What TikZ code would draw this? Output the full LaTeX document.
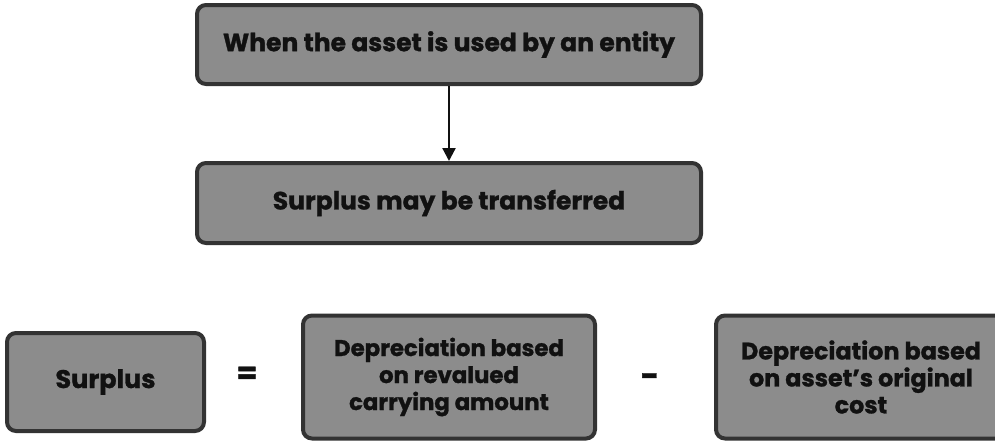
\documentclass[tikz,border=0pt]{standalone}
\usepackage{fontspec}
\setmainfont{Poppins}[BoldFeatures={FakeBold=1.2}]
\usetikzlibrary{arrows.meta}
\definecolor{boxfill}{HTML}{8C8C8C}
\definecolor{boxedge}{HTML}{333333}
\definecolor{ink}{HTML}{111111}
\begin{document}
\begin{tikzpicture}[x=1pt,y=-1pt,
  card/.style={draw=boxedge, fill=boxfill, line width=4pt, rounded corners=9pt,
    text=ink, font=\bfseries, align=center, inner sep=0pt},
  link/.style={draw=ink, line width=2.2pt, -{Triangle[length=13pt,width=13pt]}}]
  \useasboundingbox[fill=white] (0,0) rectangle (995,440);
  \clip (0,0) rectangle (995,440);
  % top flow
  \node[card, minimum width=504pt, minimum height=79pt, font=\bfseries\fontsize{25}{28}\selectfont]
    (use) at (449,44.5) {When the asset is used by an entity};
  \node[card, minimum width=504pt, minimum height=80pt, font=\bfseries\fontsize{25}{28}\selectfont]
    (transfer) at (449,203) {Surplus may be transferred};
  \draw[link] (use) -- (transfer);
  % equation row
  \node[card, minimum width=197pt, minimum height=98pt, font=\bfseries\fontsize{25.5}{28}\selectfont]
    (surplus) at (105.5,382) {Surplus};
  \node[card, minimum width=292pt, minimum height=123pt, font=\bfseries\fontsize{22.8}{27}\selectfont]
    (revalued) at (449,377) {Depreciation based\\on revalued\\carrying amount};
  \node[card, minimum width=290pt, minimum height=123pt, font=\bfseries\fontsize{23.8}{27}\selectfont]
    (original) at (861,377) {Depreciation based\\on asset's original\\cost};
  \node[font=\bfseries\fontsize{30}{30}\selectfont, text=ink] (eq) at (247,375) {=};
  \node[font=\bfseries\fontsize{32}{32}\selectfont, text=ink] (minus) at (650,380) {-};
\end{tikzpicture}
\end{document}
